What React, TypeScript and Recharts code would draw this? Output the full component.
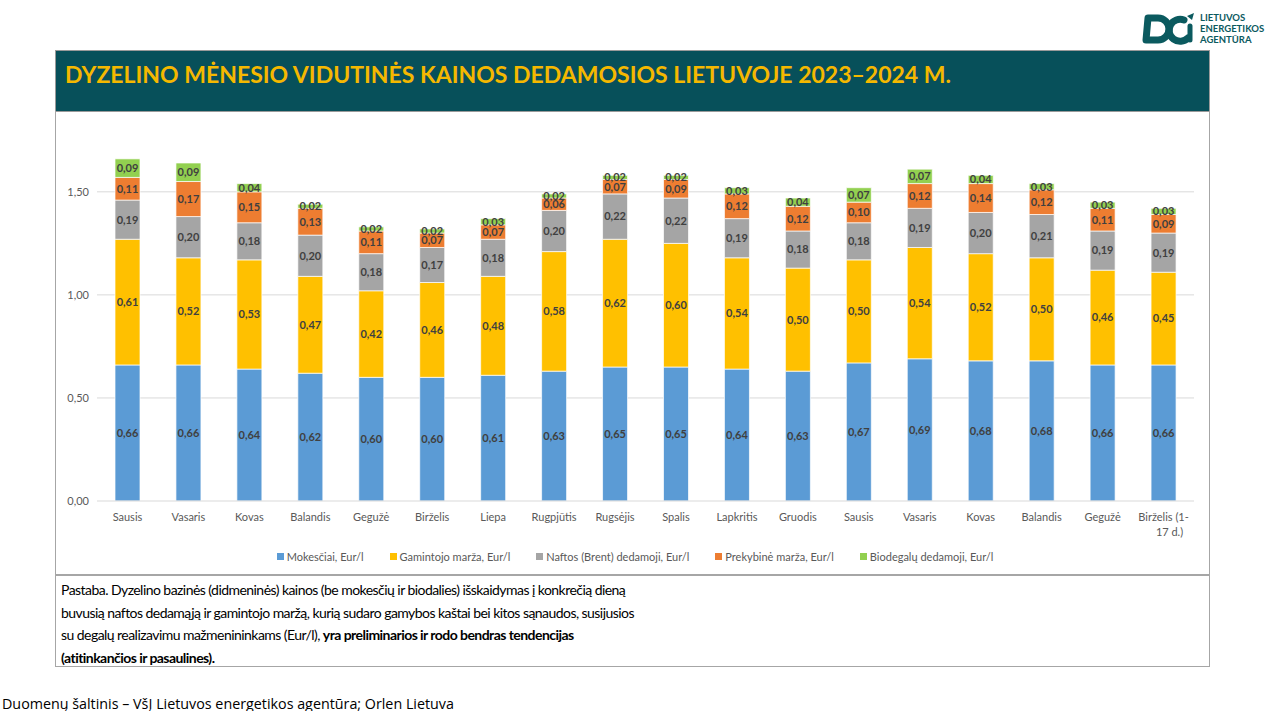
import { BarChart, Bar, XAxis, YAxis, CartesianGrid, LabelList, Legend } from "recharts";

const months = [
  "Sausis", "Vasaris", "Kovas", "Balandis", "Gegužė", "Birželis", "Liepa", "Rugpjūtis", "Rugsėjis",
  "Spalis", "Lapkritis", "Gruodis", "Sausis", "Vasaris", "Kovas", "Balandis", "Gegužė", "Birželis (1-17 d.)",
];
const mokesciai = [0.66, 0.66, 0.64, 0.62, 0.6, 0.6, 0.61, 0.63, 0.65, 0.65, 0.64, 0.63, 0.67, 0.69, 0.68, 0.68, 0.66, 0.66];
const gamintojo = [0.61, 0.52, 0.53, 0.47, 0.42, 0.46, 0.48, 0.58, 0.62, 0.6, 0.54, 0.5, 0.5, 0.54, 0.52, 0.5, 0.46, 0.45];
const naftos = [0.19, 0.2, 0.18, 0.2, 0.18, 0.17, 0.18, 0.2, 0.22, 0.22, 0.19, 0.18, 0.18, 0.19, 0.2, 0.21, 0.19, 0.19];
const prekybine = [0.11, 0.17, 0.15, 0.13, 0.11, 0.07, 0.07, 0.06, 0.07, 0.09, 0.12, 0.12, 0.1, 0.12, 0.14, 0.12, 0.11, 0.09];
const biodegalu = [0.09, 0.09, 0.04, 0.02, 0.02, 0.02, 0.03, 0.02, 0.02, 0.02, 0.03, 0.04, 0.07, 0.07, 0.04, 0.03, 0.03, 0.03];
const yTicks = [0, 0.5, 1, 1.5];
const gridValues = [0.5, 1, 1.5];

const series = [
  { key: "mokesciai", name: "Mokesčiai, Eur/l", color: "#5B9BD5" },
  { key: "gamintojo", name: "Gamintojo marža, Eur/l", color: "#FFC000" },
  { key: "naftos", name: "Naftos (Brent) dedamoji, Eur/l", color: "#A5A5A5" },
  { key: "prekybine", name: "Prekybinė marža, Eur/l", color: "#ED7D31" },
  { key: "biodegalu", name: "Biodegalų dedamoji, Eur/l", color: "#92D050" },
];

const data = months.map((m, i) => ({
  id: i,
  month: m,
  mokesciai: mokesciai[i],
  gamintojo: gamintojo[i],
  naftos: naftos[i],
  prekybine: prekybine[i],
  biodegalu: biodegalu[i],
}));

const fmt = (v: number) => Number(v).toFixed(2).replace(".", ",");
const FONT = "Lato, 'Open Sans', sans-serif";

function MonthTick(props: any) {
  const { x, y, payload } = props;
  const label = months[payload.value] ?? "";
  const lines = label.includes("(1-") ? ["Birželis (1-", "17 d.)"] : [label];
  return (
    <text x={x} y={y + 12} textAnchor="middle" fontSize={11} fill="#595959" fontFamily={FONT}>
      {lines.map((l, i) => (
        <tspan key={i} x={lines.length > 1 && i === 1 ? x + 6 : x} dy={i === 0 ? 0 : 15}>
          {l}
        </tspan>
      ))}
    </text>
  );
}

function LegendContent() {
  return (
    <div style={{ display: "flex", justifyContent: "center", gap: 26, height: 24, alignItems: "center", fontFamily: FONT, fontSize: 11, color: "#595959", paddingLeft: 20, paddingTop: 6, boxSizing: "border-box" }}>
      {series.map((s) => (
        <span key={s.key} style={{ display: "flex", alignItems: "center", gap: 3 }}>
          <span style={{ width: 7, height: 7, background: s.color, display: "inline-block" }} />
          {s.name}
        </span>
      ))}
    </div>
  );
}

function Logo() {
  return (
    <svg width={130} height={40} style={{ position: "absolute", left: 1140, top: 8 }}>
      <path d="M8 10 h10 a11 11 0 0 1 0 22 h-12 z" fill="none" stroke="#0B5A5F" strokeWidth={7} strokeLinejoin="round" />
      <path d="M44 12 a11 11 0 1 0 4 18" fill="none" stroke="#0B5A5F" strokeWidth={7} strokeLinecap="round" />
      <path d="M50 18 v14" stroke="#0B5A5F" strokeWidth={5} strokeLinecap="round" />
      <path d="M47 8 l7 -3 l-2 7 z" fill="#0B5A5F" />
      <text x={60} y={13} fontSize={9.5} fontWeight={700} fill="#0B5A5F" fontFamily={FONT}>LIETUVOS</text>
      <text x={60} y={24} fontSize={9.5} fontWeight={700} fill="#0B5A5F" fontFamily={FONT}>ENERGETIKOS</text>
      <text x={60} y={35} fontSize={9.5} fontWeight={700} fill="#0B5A5F" fontFamily={FONT}>AGENTŪRA</text>
    </svg>
  );
}

export default function App() {
  return (
    <div style={{ position: "absolute", left: 0, top: 0, width: 1273, height: 711, background: "#fff", overflow: "hidden", fontFamily: FONT }}>
      <Logo />
      <div
        style={{
          position: "absolute",
          left: 55,
          top: 50,
          width: 1155,
          height: 62,
          background: "#07505A",
          border: "1px solid #9a9a9a",
          color: "#F5B800",
          fontWeight: 700,
          fontSize: 23,
          fontFamily: FONT,
          paddingLeft: 9,
          paddingTop: 9,
          boxSizing: "border-box",
          whiteSpace: "nowrap",
        }}
      >
        DYZELINO MĖNESIO VIDUTINĖS KAINOS DEDAMOSIOS LIETUVOJE 2023–2024 M.
      </div>
      <div style={{ position: "absolute", left: 55, top: 111, width: 1155, height: 464, border: "1px solid #a6a6a6", borderTop: "none", boxSizing: "border-box" }}>
        <BarChart width={1153} height={460} data={data} margin={{ top: 19, right: 15, left: 0, bottom: 6 }}>
          <CartesianGrid vertical={false} stroke="#D9D9D9" horizontalValues={gridValues} />
          <XAxis dataKey="id" tick={<MonthTick />} interval={0} height={40} axisLine={{ stroke: "#D9D9D9" }} tickLine={false} />
          <YAxis
            width={41}
            domain={[0, 1.8]}
            ticks={yTicks}
            tickFormatter={fmt}
            axisLine={false}
            tickLine={false}
            tick={{ fontSize: 11, fill: "#595959", fontFamily: FONT }}
          />
          <Legend verticalAlign="bottom" content={<LegendContent />} />
          {series.map((s) => (
            <Bar key={s.key} dataKey={s.key} name={s.name} stackId="a" fill={s.color} stroke="#fff" strokeWidth={0.7} barSize={25} isAnimationActive={false}>
              <LabelList dataKey={s.key} position="center" formatter={fmt} fontSize={11} fontWeight={700} fill="#404040" fontFamily={FONT} />
            </Bar>
          ))}
        </BarChart>
      </div>
      <div
        style={{
          position: "absolute",
          left: 55,
          top: 575,
          width: 1155,
          height: 92,
          border: "1px solid #a6a6a6",
          boxSizing: "border-box",
          padding: "3px 0 0 5px",
          fontFamily: FONT,
          fontSize: 14,
          letterSpacing: -0.55,
          lineHeight: "22.5px",
          color: "#000",
          whiteSpace: "nowrap",
        }}
      >
        <div>Pastaba. Dyzelino bazinės (didmeninės) kainos (be mokesčių ir biodalies) išskaidymas į konkrečią dieną</div>
        <div>buvusią naftos dedamąją ir gamintojo maržą, kurią sudaro gamybos kaštai bei kitos sąnaudos, susijusios</div>
        <div>
          su degalų realizavimu mažmenininkams (Eur/l), <b>yra preliminarios ir rodo bendras tendencijas</b>
        </div>
        <div>
          <b>(atitinkančios ir pasaulines).</b>
        </div>
      </div>
      <div style={{ position: "absolute", left: 2, top: 694, fontSize: 14.3, color: "#000", fontFamily: "'Open Sans', sans-serif", whiteSpace: "nowrap" }}>
        Duomenų šaltinis – VšĮ Lietuvos energetikos agentūra; Orlen Lietuva
      </div>
    </div>
  );
}
